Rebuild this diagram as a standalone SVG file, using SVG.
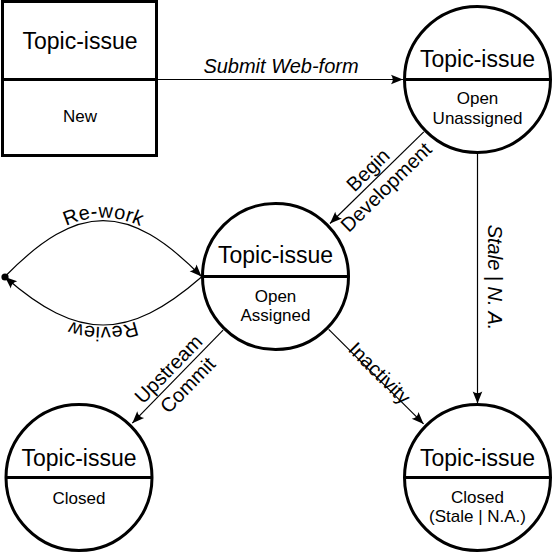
<svg xmlns="http://www.w3.org/2000/svg" xmlns:xlink="http://www.w3.org/1999/xlink" width="552" height="552" viewBox="0 0 552 552">
<style>
text{font-family:"Liberation Sans",Arial,sans-serif;fill:#000}
.shape{fill:#fff;stroke:#000;stroke-width:3}
.div{stroke:#000;stroke-width:3}
.title{font-size:23px;text-anchor:middle}
.sub{font-size:17px;text-anchor:middle}
.lbl{font-size:20px;text-anchor:middle}
.it{font-style:italic}
.edge{fill:none;stroke:#000;stroke-width:1.2}
</style>
<defs>
<marker id="arr" markerUnits="userSpaceOnUse" markerWidth="16" markerHeight="12" viewBox="-14 -6 16 12" refX="0" refY="0" orient="auto">
<path d="M0,0 L-12,-4.8 Q-8.5,0 -12,4.8 Z" fill="#000"/>
</marker>
<path id="pRework" d="M5,276.5 C78,202 128,202 201.5,276.5"/>
<path id="pReview" d="M201.5,277 C128,341 78,341 5,277"/>
</defs>

<g id="connectors">
<line class="edge" x1="158" y1="79.5" x2="403" y2="79.5" marker-end="url(#arr)"/>
<line class="edge" x1="423.8" y1="131.9" x2="330" y2="223.5" marker-end="url(#arr)"/>
<line class="edge" x1="477.5" y1="153" x2="477.5" y2="403.5" marker-end="url(#arr)"/>
<line class="edge" x1="223.1" y1="330.1" x2="132.3" y2="423.2" marker-end="url(#arr)"/>
<line class="edge" x1="328.7" y1="329.4" x2="423.6" y2="423.9" marker-end="url(#arr)"/>
<use href="#pRework" class="edge" marker-end="url(#arr)"/>
<use href="#pReview" class="edge" marker-end="url(#arr)"/>
<circle cx="5" cy="277" r="3.6" fill="#000"/>
<text class="lbl it" x="281" y="73.3">Submit Web-form</text>
<text class="lbl it" transform="translate(488,277.5) rotate(90)">Stale | N. A.</text>
<g transform="translate(376.9,177.7) rotate(-44.3)">
<text class="lbl" x="-1" y="-5">Begin</text>
<text class="lbl" x="0" y="20">Development</text>
</g>
<g transform="translate(177.6,376.6) rotate(-45.6)">
<text class="lbl" x="-1" y="-5">Upstream</text>
<text class="lbl" x="1" y="20">Commit</text>
</g>
<text class="lbl" transform="translate(376.2,376.6) rotate(44.9)" x="0" y="2">Inactivity</text>
<text class="lbl" dy="-3"><textPath href="#pRework" startOffset="50%">Re-work</textPath></text>
<text class="lbl" dy="-2"><textPath href="#pReview" startOffset="50%">Review</textPath></text>
</g>

<g id="node-new">
<rect class="shape" x="2.5" y="1.5" width="154" height="154"/>
<line class="div" x1="2.5" y1="79.5" x2="156.5" y2="79.5"/>
<text class="title" x="80" y="49">Topic-issue</text>
<text class="sub" x="80" y="122">New</text>
</g>

<g id="node-open-unassigned">
<circle class="shape" cx="477.5" cy="79.5" r="73"/>
<line class="div" x1="404.5" y1="79.5" x2="550.5" y2="79.5"/>
<text class="title" x="477.5" y="66.5">Topic-issue</text>
<text class="sub" x="477.5" y="104">Open</text>
<text class="sub" x="477.5" y="123.5">Unassigned</text>
</g>

<g id="node-open-assigned">
<circle class="shape" cx="275.5" cy="276.5" r="73"/>
<line class="div" x1="202.5" y1="276.5" x2="348.5" y2="276.5"/>
<text class="title" x="275.5" y="263.3">Topic-issue</text>
<text class="sub" x="275.5" y="301.5">Open</text>
<text class="sub" x="275.5" y="321">Assigned</text>
</g>

<g id="node-closed">
<circle class="shape" cx="79" cy="477.5" r="73"/>
<line class="div" x1="6" y1="477.5" x2="152" y2="477.5"/>
<text class="title" x="79" y="465.5">Topic-issue</text>
<text class="sub" x="79" y="504">Closed</text>
</g>

<g id="node-closed-stale">
<circle class="shape" cx="477.5" cy="477.5" r="73"/>
<line class="div" x1="404.5" y1="477.5" x2="550.5" y2="477.5"/>
<text class="title" x="477.5" y="465.5">Topic-issue</text>
<text class="sub" x="477.5" y="502.5">Closed</text>
<text class="sub" x="477.5" y="522">(Stale | N.A.)</text>
</g>
</svg>
